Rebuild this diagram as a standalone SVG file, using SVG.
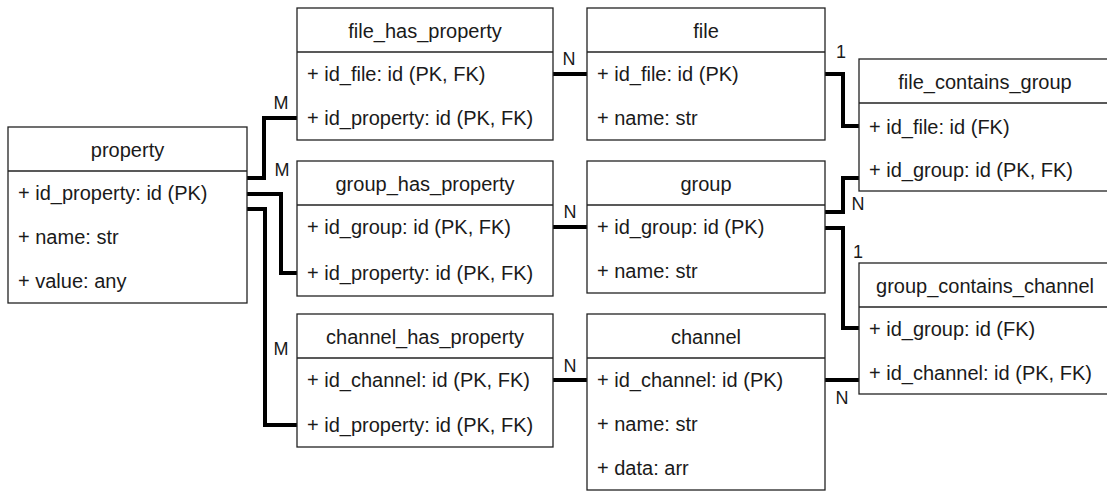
<svg xmlns="http://www.w3.org/2000/svg" width="1107" height="491" viewBox="0 0 1107 491">
<style>
.box{fill:#fff;stroke:#222;stroke-width:1.3}
.div{stroke:#222;stroke-width:1.3}
text{font-family:"Liberation Sans",Arial,sans-serif;font-size:20px;fill:#1a1a1a}
.t{text-anchor:middle}
.c{fill:none;stroke:#000;stroke-width:4}
.lbl{text-anchor:middle;font-size:18px}
</style>
<rect width="1107" height="491" fill="#fff"/>
<g id="connectors">
<path class="c" d="M247 178 H264 V118 H297"/>
<path class="c" d="M247 194 H281 V273 H297"/>
<path class="c" d="M247 209 H265 V425 H297"/>
<path class="c" d="M553 74 H587"/>
<path class="c" d="M553 227 H587"/>
<path class="c" d="M553 380 H587"/>
<path class="c" d="M825 74 H843 V126 H859"/>
<path class="c" d="M825 212 H843 V178 H859"/>
<path class="c" d="M825 228 H843 V328 H859"/>
<path class="c" d="M825 380 H859"/>
<text class="lbl" x="281" y="109">M</text>
<text class="lbl" x="282" y="176">M</text>
<text class="lbl" x="281" y="355">M</text>
<text class="lbl" x="569" y="65">N</text>
<text class="lbl" x="570" y="218">N</text>
<text class="lbl" x="570" y="372">N</text>
<text class="lbl" x="841" y="58">1</text>
<text class="lbl" x="858" y="210">N</text>
<text class="lbl" x="858" y="258">1</text>
<text class="lbl" x="842" y="404">N</text>
</g>
<g id="property">
<rect class="box" x="8" y="127" width="239" height="176"/>
<line class="div" x1="8" y1="171" x2="247" y2="171"/>
<text class="t" x="127.5" y="157">property</text>
<text x="18" y="200">+ id_property: id (PK)</text>
<text x="18" y="244">+ name: str</text>
<text x="18" y="288">+ value: any</text>
</g>
<g id="file_has_property">
<rect class="box" x="297" y="8" width="256" height="132"/>
<line class="div" x1="297" y1="52" x2="553" y2="52"/>
<text class="t" x="425" y="38">file_has_property</text>
<text x="307" y="81">+ id_file: id (PK, FK)</text>
<text x="307" y="125">+ id_property: id (PK, FK)</text>
</g>
<g id="group_has_property">
<rect class="box" x="297" y="161" width="256" height="135"/>
<line class="div" x1="297" y1="205" x2="553" y2="205"/>
<text class="t" x="425" y="191">group_has_property</text>
<text x="307" y="234">+ id_group: id (PK, FK)</text>
<text x="307" y="280">+ id_property: id (PK, FK)</text>
</g>
<g id="channel_has_property">
<rect class="box" x="297" y="314" width="256" height="133"/>
<line class="div" x1="297" y1="358" x2="553" y2="358"/>
<text class="t" x="425" y="344">channel_has_property</text>
<text x="307" y="387">+ id_channel: id (PK, FK)</text>
<text x="307" y="432">+ id_property: id (PK, FK)</text>
</g>
<g id="file">
<rect class="box" x="587" y="8" width="238" height="132"/>
<line class="div" x1="587" y1="52" x2="825" y2="52"/>
<text class="t" x="706" y="38">file</text>
<text x="597" y="81">+ id_file: id (PK)</text>
<text x="597" y="125">+ name: str</text>
</g>
<g id="group">
<rect class="box" x="587" y="161" width="238" height="132"/>
<line class="div" x1="587" y1="205" x2="825" y2="205"/>
<text class="t" x="706" y="191">group</text>
<text x="597" y="234">+ id_group: id (PK)</text>
<text x="597" y="278">+ name: str</text>
</g>
<g id="channel">
<rect class="box" x="587" y="314" width="238" height="176"/>
<line class="div" x1="587" y1="358" x2="825" y2="358"/>
<text class="t" x="706" y="344">channel</text>
<text x="597" y="387">+ id_channel: id (PK)</text>
<text x="597" y="431">+ name: str</text>
<text x="597" y="475">+ data: arr</text>
</g>
<g id="file_contains_group">
<rect class="box" x="859" y="59" width="252" height="132"/>
<line class="div" x1="859" y1="103" x2="1111" y2="103"/>
<text class="t" x="985" y="89">file_contains_group</text>
<text x="869" y="134">+ id_file: id (FK)</text>
<text x="869" y="177">+ id_group: id (PK, FK)</text>
</g>
<g id="group_contains_channel">
<rect class="box" x="859" y="263" width="252" height="131"/>
<line class="div" x1="859" y1="307" x2="1111" y2="307"/>
<text class="t" x="985" y="293">group_contains_channel</text>
<text x="869" y="336">+ id_group: id (FK)</text>
<text x="869" y="380">+ id_channel: id (PK, FK)</text>
</g>
</svg>
